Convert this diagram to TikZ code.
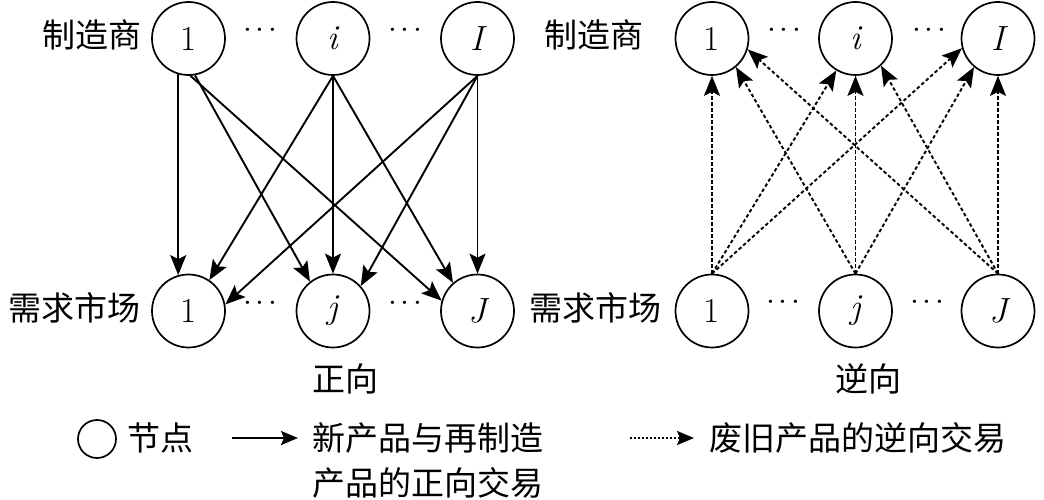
\documentclass[tikz,border=0pt]{standalone}
\usepackage{fontspec}
\newfontfamily\cjk{Noto Sans CJK SC}
\usetikzlibrary{arrows.meta}
\newcommand\mydots{\makebox[12.5pt]{·}\makebox[12.5pt]{·}\makebox[12.5pt]{·}}
\begin{document}
\begin{tikzpicture}[x=1pt,y=-1pt,
  nd/.style={circle,draw,line width=1.7pt,minimum size=73pt,inner sep=0pt,font=\fontsize{35}{40}\selectfont},
  lbl/.style={font=\cjk\fontsize{33}{40}\selectfont,inner sep=0pt},
  dts/.style={font=\fontsize{40}{40}\selectfont,inner sep=0pt},
  fwd/.style={line width=1.9pt,-{Stealth[length=20pt,width=16pt,inset=4pt]}},
  rev/.style={fwd,dash pattern=on 3.5pt off 2.5pt},
  lgarr/.style={line width=1.9pt,-{Stealth[length=17pt,width=14pt,inset=3pt]}}
]
\useasboundingbox (0,0) rectangle (1044,500);
% forward network
\node[nd] (t1) at (188.5,38.5) {1};
\node[nd] (ti) at (333,38.5) {\itshape i};
\node[nd] (tI) at (477.5,38.5) {\itshape I};
\node[nd] (b1) at (188.5,311) {1};
\node[nd] (bj) at (333,311) {\itshape j};
\node[nd] (bJ) at (477.5,311) {\itshape J};
\node[lbl] (lm1) at (92,35) {制造商};
\node[lbl] (ld1) at (75,308) {需求市场};
\node[dts] (d1) at (260,36) {\mydots};
\node[dts] (d2) at (405,36) {\mydots};
\node[dts] (d3) at (260,309) {\mydots};
\node[dts] (d4) at (405,309) {\mydots};
\draw[fwd] (t1.-106) -- (b1.106);
\draw[fwd] (t1.-80) -- (bj.128);
\draw[fwd] (t1.-87) -- (bJ.164);
\draw[fwd] (ti.-90) -- (b1.56);
\draw[fwd] (ti.-90) -- (bj.90);
\draw[fwd] (ti.-90) -- (bJ.131);
\draw[fwd] (tI.-90) -- (b1.10);
\draw[fwd] (tI.-90) -- (bj.42);
\draw[fwd] (tI.-90) -- (bJ.90);
\node[lbl] (cap1) at (345,379) {正向};
% reverse network
\node[nd] (rt1) at (712,38.5) {1};
\node[nd] (rti) at (855.5,38.5) {\itshape i};
\node[nd] (rtI) at (998,38.5) {\itshape I};
\node[nd] (rb1) at (712,311) {1};
\node[nd] (rbj) at (855.5,311) {\itshape j};
\node[nd] (rbJ) at (998,311) {\itshape J};
\node[lbl] (lm2) at (594,35) {制造商};
\node[lbl] (ld2) at (595,308) {需求市场};
\node[dts] (d5) at (784,36) {\mydots};
\node[dts] (d6) at (929,36) {\mydots};
\node[dts] (d7) at (783,308) {\mydots};
\node[dts] (d8) at (927,308) {\mydots};
\draw[rev] (rb1.90) -- (rt1.-90);
\draw[rev] (rb1.90) -- (rti.-121);
\draw[rev] (rb1.90) -- (rtI.-165);
\draw[rev] (rbj.90) -- (rt1.-50);
\draw[rev] (rbj.90) -- (rti.-90);
\draw[rev] (rbj.90) -- (rtI.-130);
\draw[rev] (rbJ.90) -- (rt1.-17);
\draw[rev] (rbJ.90) -- (rti.-47);
\draw[rev] (rbJ.90) -- (rtI.-90);
\node[lbl] (cap2) at (868,379) {逆向};
% legend
\node[circle,draw,line width=1.7pt,minimum size=38pt,inner sep=0pt] (lgc) at (97,439) {};
\node[lbl,anchor=west] (lgt1) at (127,438) {节点};
\coordinate (la1) at (232,438);
\coordinate (la2) at (298,438);
\draw[lgarr] (la1) -- (la2);
\node[lbl,anchor=west] (lgt2) at (312,438) {新产品与再制造};
\node[lbl,anchor=west] (lgt3) at (312,483) {产品的正向交易};
\coordinate (lb1) at (630,438);
\coordinate (lb2) at (694,438);
\draw[lgarr,dash pattern=on 2pt off 2pt] (lb1) -- (lb2);
\node[lbl,anchor=west] (lgt4) at (709,438) {废旧产品的逆向交易};
\end{tikzpicture}
\end{document}
